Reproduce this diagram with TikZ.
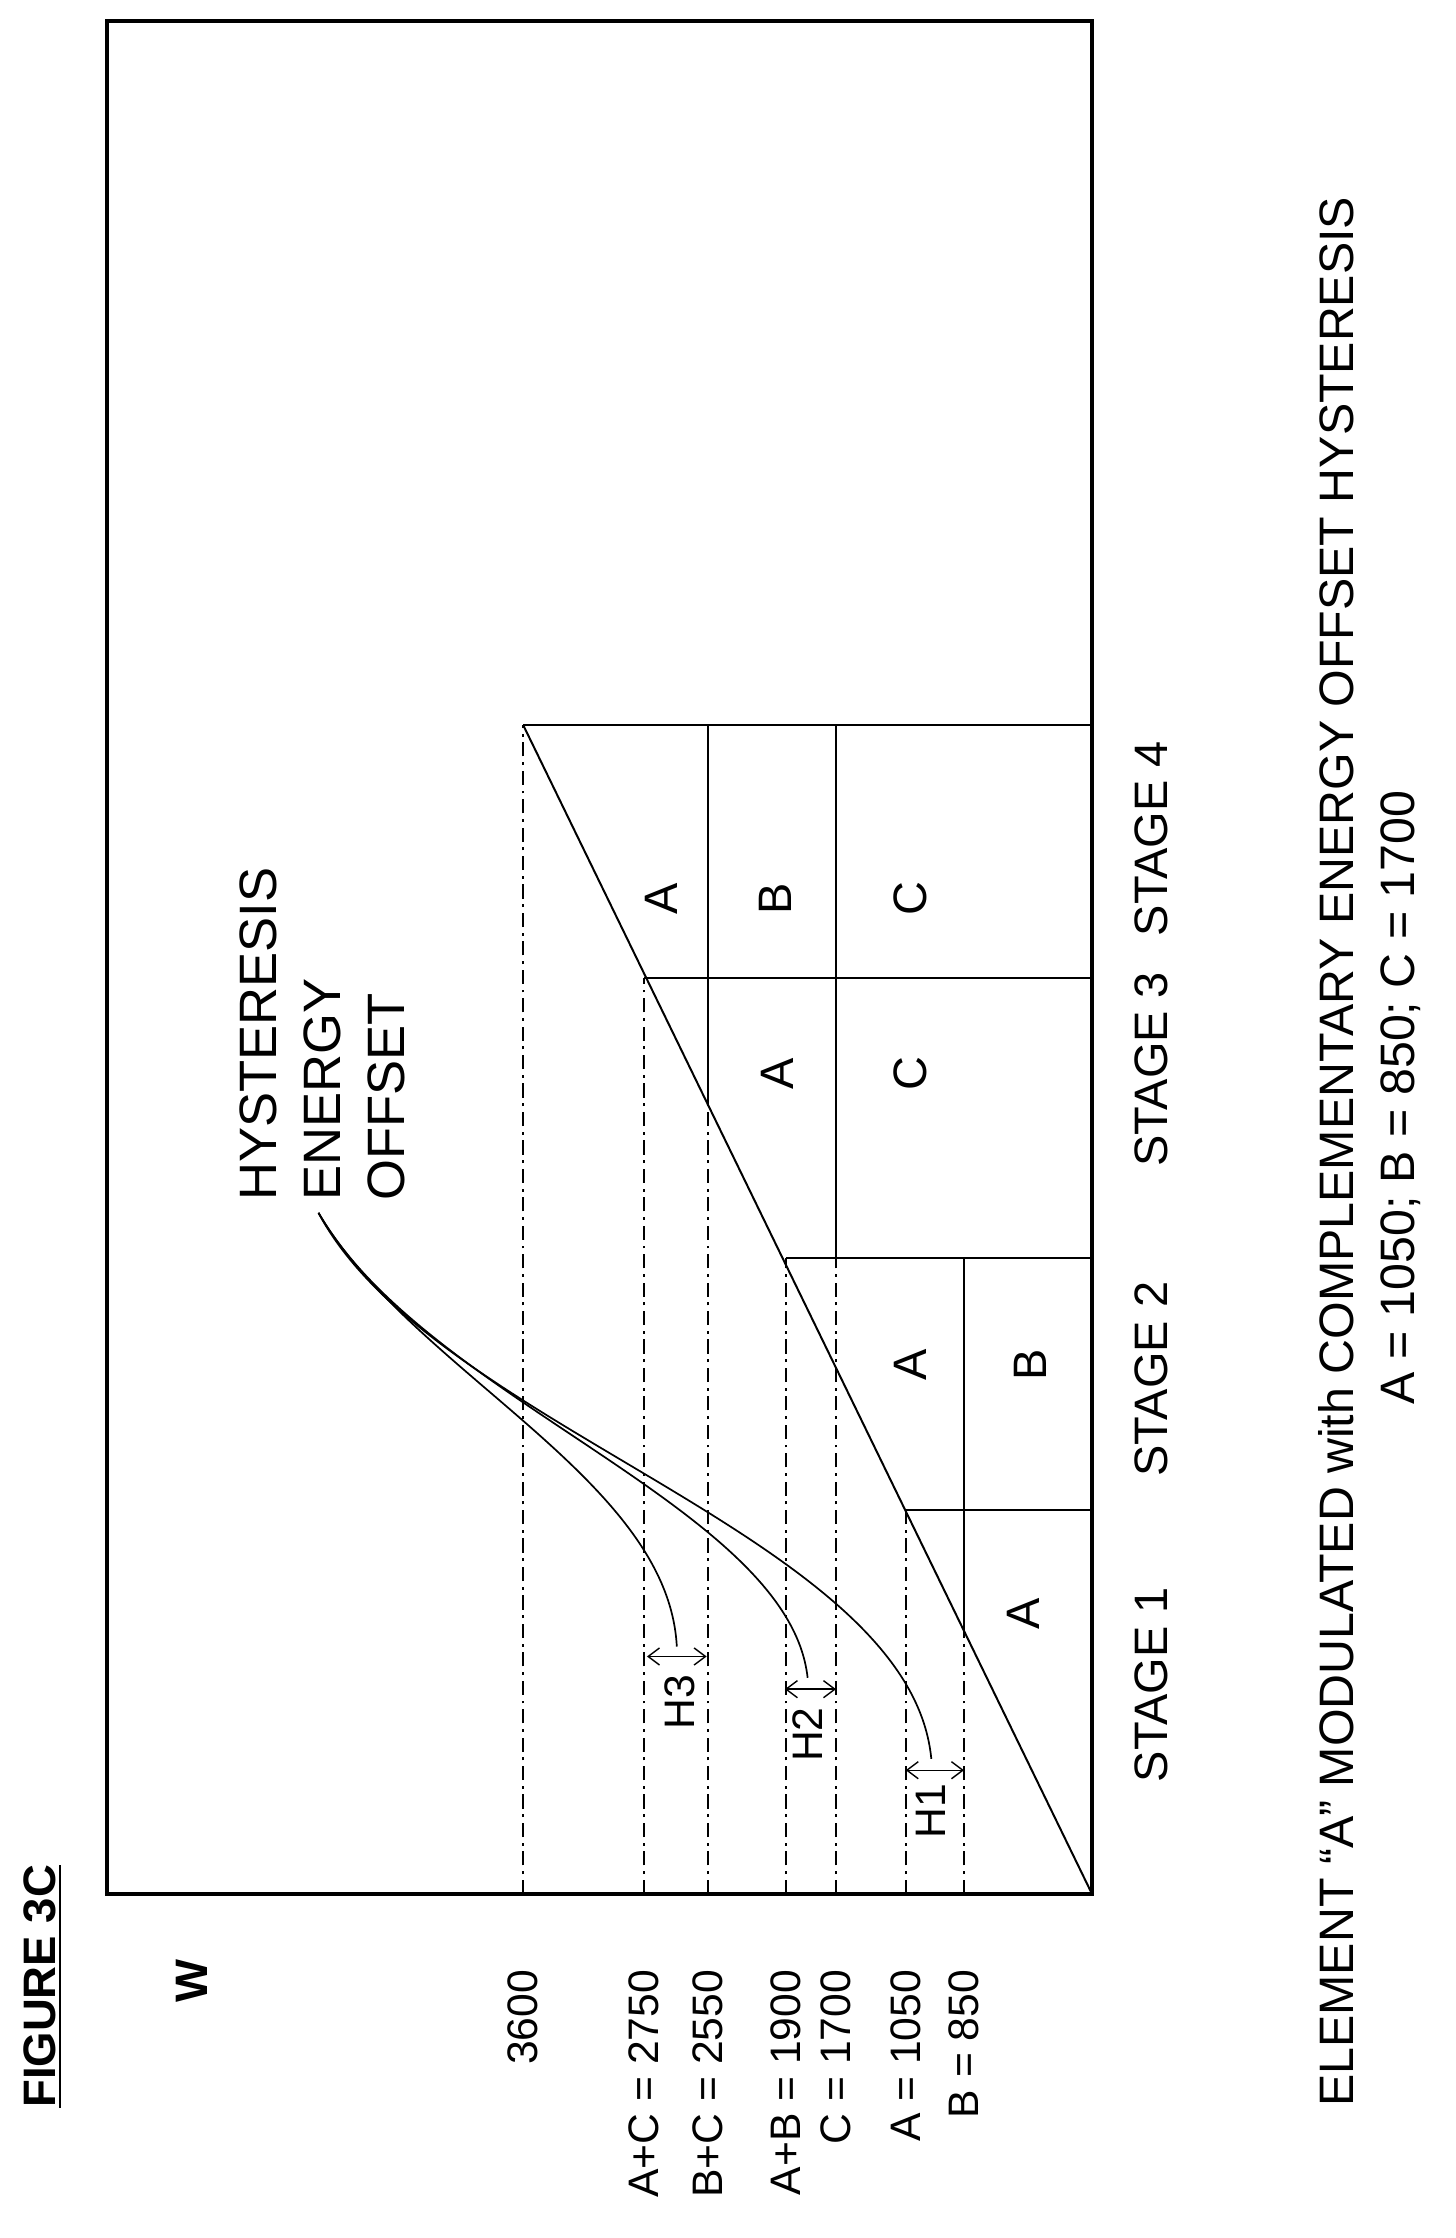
\documentclass[tikz,border=0pt]{standalone}
\usepackage{fontspec}
\setmainfont{Liberation Sans}
\usetikzlibrary{arrows.meta}
\begin{document}
\begin{tikzpicture}[x=0.5pt,y=-0.5pt,
  thin line/.style={line width=0.7pt},
  dd/.style={line width=0.6pt,dash pattern=on 5pt off 2pt on 1pt off 2pt},
  lbl/.style={rotate=90,font=\fontsize{15}{17}\selectfont,inner sep=0pt},
  big/.style={font=\fontsize{16.5}{19}\selectfont},
  cur/.style={line width=0.6pt},
  harrow/.style={{Straight Barb[open,length=4pt,width=6pt]}-{Straight Barb[open,length=4pt,width=6pt]},line width=0.5pt}]
\useasboundingbox (0,0) rectangle (1024,1574);
% frame
\draw[line width=1.5pt] (75,15) rectangle (768,1332);
% diagonal
\coordinate (o) at (768,1332);
\coordinate (t) at (368,510);
\draw[thin line] (o) -- (t);
% boxes
\draw[thin line] (637,1062) -- (768,1062);
\draw[thin line] (553,885) -- (768,885);
\draw[thin line] (453,688) -- (768,688);
\draw[thin line] (368,510) -- (768,510);
\draw[thin line] (678,885) -- (678,1147);
\draw[thin line] (588,510) -- (588,885);
\draw[thin line] (498,510) -- (498,777);
% dash-dot lines
\draw[dd] (368,1332) -- (368,510);
\draw[dd] (453,1332) -- (453,688);
\draw[dd] (498,1332) -- (498,777);
\draw[dd] (553,1332) -- (553,885);
\draw[dd] (588,1332) -- (588,885);
\draw[dd] (637,1332) -- (637,1062);
\draw[dd] (678,1332) -- (678,1147);
% box labels
\node[lbl,big] (a1) at (720,1135) {A};
\node[lbl,big] (a2) at (640,960) {A};
\node[lbl,big] (b2) at (725,960) {B};
\node[lbl,big] (a3) at (547,755) {A};
\node[lbl,big] (c3) at (640,755) {C};
\node[lbl,big] (a4) at (465,632) {A};
\node[lbl,big] (b4) at (545,632) {B};
\node[lbl,big] (c4) at (640,632) {C};
% stage labels
\node[lbl,big] (s1) at (810,1185) {STAGE 1};
\node[lbl,big] (s2) at (810,970) {STAGE 2};
\node[lbl,big] (s3) at (810,752) {STAGE 3};
\node[lbl,big] (s4) at (810,590) {STAGE 4};
% axis labels
\node[lbl,anchor=east,font=\bfseries\fontsize{16}{18}\selectfont] (w) at (135,1378) {W};
\node[lbl,anchor=east] (v3600) at (368,1385) {3600};
\node[lbl,anchor=east] (v2750) at (453,1385) {A+C = 2750};
\node[lbl,anchor=east] (v2550) at (498,1385) {B+C = 2550};
\node[lbl,anchor=east] (v1900) at (553,1385) {A+B = 1900};
\node[lbl,anchor=east] (v1700) at (588,1385) {C = 1700};
\node[lbl,anchor=east] (v1050) at (637,1385) {A = 1050};
\node[lbl,anchor=east] (v850) at (678,1385) {B = 850};
\node[lbl,font=\bfseries\fontsize{16}{18}\selectfont] (fig) at (30,1397) {\underline{FIGURE 3C}};
% hysteresis label
\node[lbl,anchor=north west,align=left,font=\fontsize{18.5}{22.5}\selectfont] (hys) at (168,845) {HYSTERESIS\\ENERGY\\OFFSET};
% H arrows
\coordinate (h3l) at (455,1165); \coordinate (h3r) at (497,1165);
\coordinate (h2l) at (552,1188); \coordinate (h2r) at (588,1188);
\coordinate (h1l) at (637,1245); \coordinate (h1r) at (678,1245);
\draw[harrow] (h3l) -- (h3r);
\draw[harrow] (h2l) -- (h2r);
\draw[harrow] (h1l) -- (h1r);
\node[lbl] (h3) at (478,1197) {H3};
\node[lbl] (h2) at (568,1220) {H2};
\node[lbl] (h1) at (655,1274) {H1};
% curves
\coordinate (cs) at (224,853);
\draw[cur] (cs) .. controls (290,965) and (470,1040) .. (476,1158);
\draw[cur] (cs) .. controls (300,985) and (555,1060) .. (568,1180);
\draw[cur] (cs) .. controls (305,1005) and (640,1080) .. (655,1237);
% caption
\node[lbl,font=\fontsize{17}{20}\selectfont] (cap1) at (940,810) {ELEMENT “A” MODULATED with COMPLEMENTARY ENERGY OFFSET HYSTERESIS};
\node[lbl,font=\fontsize{17}{20}\selectfont] (cap2) at (985,772) {A = 1050; B = 850; C = 1700};
\end{tikzpicture}
\end{document}
